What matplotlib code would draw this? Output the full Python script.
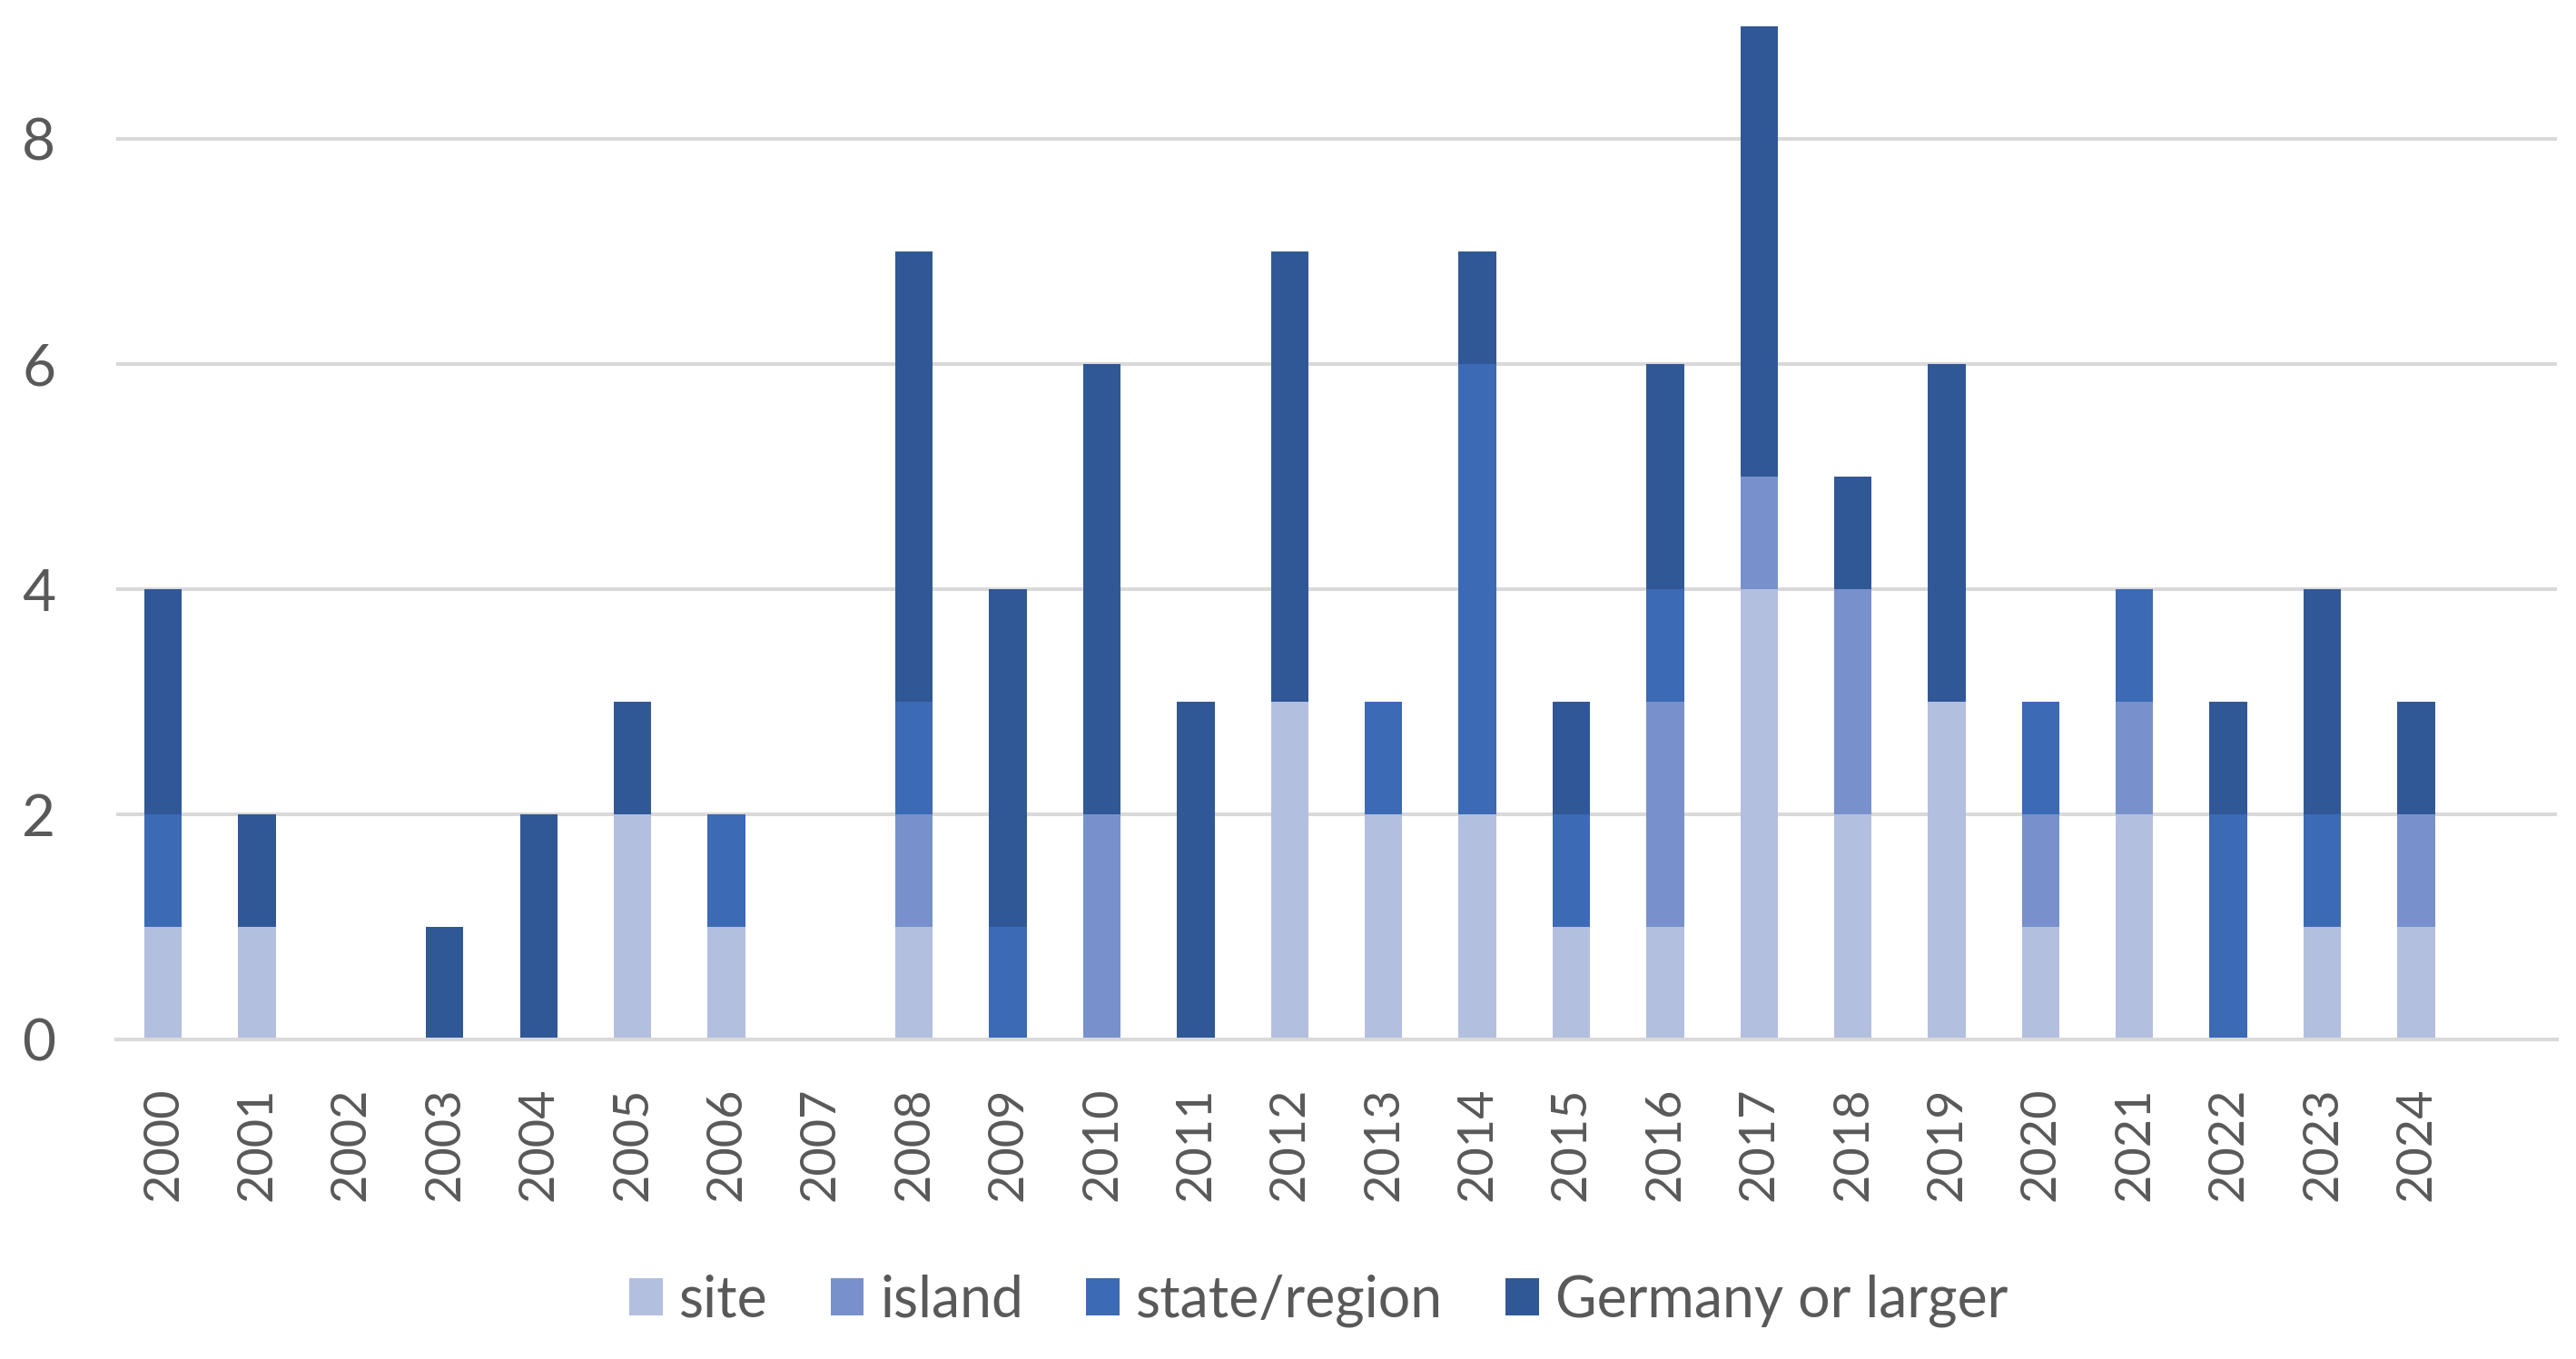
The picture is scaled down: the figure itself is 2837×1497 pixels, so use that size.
import matplotlib
matplotlib.use("Agg")
import matplotlib.pyplot as plt
import numpy as np

years = [str(y) for y in range(2000, 2025)]
site    = [1, 1, 0, 0, 0, 2, 1, 0, 1, 0, 0, 0, 3, 2, 2, 1, 1, 4, 2, 3, 1, 2, 0, 1, 1]
island  = [0, 0, 0, 0, 0, 0, 0, 0, 1, 0, 2, 0, 0, 0, 0, 0, 2, 1, 2, 0, 1, 1, 0, 0, 1]
state   = [1, 0, 0, 0, 0, 0, 1, 0, 1, 1, 0, 0, 0, 1, 4, 1, 1, 0, 0, 0, 1, 1, 2, 1, 0]
germany = [2, 1, 0, 1, 2, 1, 0, 0, 4, 3, 4, 3, 4, 0, 1, 1, 2, 4, 1, 3, 0, 0, 1, 2, 1]
series_names = ["site", "island", "state/region", "Germany or larger"]
colors = ["#B3BFDF", "#7891CC", "#3C6AB4", "#315896"]
yticks = [0, 2, 4, 6, 8]

plt.rcParams['font.family'] = ['Lato', 'DejaVu Sans']
fig = plt.figure(figsize=(28.37, 14.97), dpi=100)
ax = fig.add_axes([0.0451, 0.2351, 0.9475, 0.7455])

x = np.arange(len(years))
bottom = np.zeros(len(years))
for name, vals, c in zip(series_names, [site, island, state, germany], colors):
    v = np.array(vals, dtype=float)
    ax.bar(x, v, bottom=bottom, width=0.40, color=c, label=name, zorder=3)
    bottom += v

ax.set_xlim(-0.5, 25.5)
ax.set_ylim(0, 9)
ax.set_yticks(yticks)
ax.set_yticklabels([str(t) for t in yticks], fontsize=46, color="#595959")
ax.set_xticks(x)
ax.set_xticklabels(years, rotation=90, fontsize=39, color="#595959")
ax.tick_params(axis='y', length=0, pad=48)
ax.tick_params(axis='x', length=0, pad=38)
ax.grid(axis='y', color="#D9D9D9", linewidth=2.9, zorder=0)
for s in ['top', 'right', 'left']:
    ax.spines[s].set_visible(False)
ax.spines['bottom'].set_color("#D9D9D9")
ax.spines['bottom'].set_linewidth(2.9)
ax.spines['bottom'].set_zorder(4)

leg = fig.legend(loc='center', bbox_to_anchor=(0.512, 0.043), ncol=4, frameon=False,
                 fontsize=45, handlelength=0.58, handleheight=0.63, handletextpad=0.3,
                 columnspacing=1.1, labelcolor="#595959")
fig.savefig("out.png", dpi=100)
